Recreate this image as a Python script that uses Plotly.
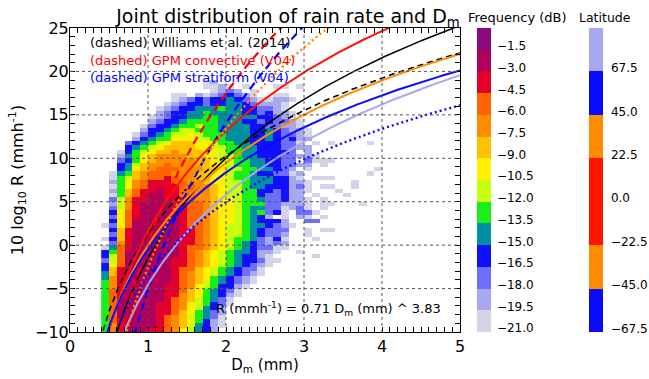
import numpy as np
import plotly.graph_objects as go

# ---------------- data ----------------
DM_START = 0.4          # left edge of first Dm bin (mm)
DM_STEP = 0.1
N_DM = 36
DB_START = -10.0        # lower edge of first 10log10(R) bin (dB)
DB_STEP = 0.5

LEVEL_CODES = "123456789abcde"
LEVEL_DB = [-21.0, -19.5, -18.0, -16.5, -15.0, -13.5, -12.0,
            -10.5, -9.0, -7.5, -6.0, -4.5, -3.0, -1.5]
FREQ_COLORS = ["#D4D4E8", "#A8A8F0", "#6E6EFF", "#1010FF", "#0090A0", "#18F018", "#C8FF10",
               "#FFF000", "#FFC000", "#FF8C00", "#FF6400", "#E4002A", "#B0005A", "#8C0A80"]

# frequency level of every cell, top row (18.5..19 dB) first: (first Dm-bin index, level codes)
HEAT_ROWS = [
    (13, "12"),
    (13, "1121.1...11.1"),
    (14, "1232.1"),
    (9, "11.21234321..11"),
    (9, "1234344543211221"),
    (8, "1234434455432221"),
    (7, "12344555655443321"),
    (7, "234455655554434221"),
    (6, "1234455665555544321"),
    (6, "23445666655544343321"),
    (5, "134456676655554433221"),
    (5, "2445677666555544543221"),
    (4, "13456778766655544543321"),
    (4, "24566888776655544543422"),
    (3, "34567899988766554444331.1.1....1"),
    (3, "456789999887766554443322"),
    (2, "1467899a999887665544443.2"),
    (2, "25689aaaa99887765544433221"),
    (2, "34689aaaaa9987766554433.3111"),
    (2, "4579aabaaa998876655443322.1"),
    (2, "4589abbbaaa998776655432.1........1"),
    (1, "1569abbbaaa99887665443312........1"),
    (1, "1679abbcbaa99887665554421.111"),
    (1, "268abcccbbaa98877655544221.....1"),
    (1, "168abccccbbaa9877655444231.11..1"),
    (1, "269bccdccbbaa9877664434221...1"),
    (1, "169bcddccbbaa987766433422.1...1"),
    (1, "37accdddccbaa9887665334221.1"),
    (1, "27acddddccbba9887666332221.11...1"),
    (1, "37acddddccbba9887655331231.1"),
    (1, "48bcdddddcbba9887656341.331"),
    (1, "38bcdddddcbba98876542.1.21.1"),
    (1, "48bddddddcbba9887654442..33"),
    (0, "138bddddddcbba98776554321"),
    (1, "49cddddddccba9877654333..1.11"),
    (1, "39cddddddccba9877654332..1"),
    (0, "149cddddddccba9876653241...1"),
    (1, "3acddddddccba9876543232"),
    (0, "15bcddddddcbba9876543311"),
    (0, "46bdddddddcba9876554221..1"),
    (0, "47bdddddddcba987654421.....1"),
    (0, "37bddddddccba9876544311"),
    (0, "48bddddddccba987654321"),
    (0, "49cddddddcbb987654331"),
    (0, "59cddddddcba987654321"),
    (0, "5acddddddcba98654321"),
    (0, "6acddddddcba97654321"),
    (0, "6acdddddccba8764421"),
    (0, "6bcdddddccb9865431"),
    (0, "6bcdddddcca9865421"),
    (0, "6bddddddcba976531"),
    (0, "6bdddddccba876431"),
    (0, "6bdddddccba87542"),
    (0, "6bdddddccb986532"),
    (0, "6bdddddcba976531"),
    (0, "6bcddddcba986421"),
    (0, "6acddddcba975421"),
    (0, "6acdddccba87542"),
]

# R = a * Dm^b relations
REL_NAME = ["Fit", "Williams et al. (2014)", "GPM convective (V04)", "GPM stratiform (V04)",
            "Lat 22.5S-22.5N", "Lat 22.5N-45N", "Lat 45N-67.5N", "Lat >67.5N",
            "Lat 22.5S-45S", "Lat 45S-67.5S"]
REL_A = [0.71, 1.35, 1.05, 0.31, 1.45, 1.00, 0.89, 0.35, 0.56, 0.45]
REL_B = [3.83, 2.98, 5.75, 6.36, 3.83, 3.15, 2.95, 3.45, 5.30, 2.80]
REL_COLOR = ["#000000", "#000000", "#FF0000", "#0000FF", "#FF1400", "#FF8C00",
             "#0A0AFF", "#A8A8F0", "#FF8C00", "#0A0AFF"]
REL_DASH = ["solid", "6px,4px", "8px,5px", "8px,5px", "solid", "solid",
            "solid", "solid", "2px,3px", "2px,3px"]
REL_WIDTH = [1.5, 1.6, 2.2, 2.2, 2, 2, 2, 2, 2.4, 2.4]

LAT_TICKS = [-67.5, -45.0, -22.5, 0.0, 22.5, 45.0, 67.5]
LAT_BOX_COLORS = ["#0A0AFF", "#FF8C00", "#FF1400", "#FF1400", "#FF8C00", "#0A0AFF", "#A8A8F0"]

X_GRID = [1, 2, 3, 4]
Y_GRID = [-5, 0, 5, 10, 15, 20]

LEGEND_TEXT = ["(dashed) Williams et al. (2014)", "(dashed) GPM convective (V04)",
               "(dashed) GPM stratiform (V04)"]
LEGEND_COLOR = ["#000000", "#FF0000", "#0000FF"]

FIT_TEXT = "R (mmh<sup>-1</sup>) = 0.71 D<sub>m</sub> (mm) ^ 3.83"

# ---------------- build ----------------
FONT = "DejaVu Sans"
W, H = 649, 379
ML, MR, MT, MB = 70, 189, 28, 47

z = []
for start, codes in reversed(HEAT_ROWS):
    row = [None] * N_DM
    for i, ch in enumerate(codes):
        if ch != "." and start + i < N_DM:
            row[start + i] = LEVEL_DB[LEVEL_CODES.index(ch)]
    z.append(row)
dm_centers = [DM_START + DM_STEP * (i + 0.5) for i in range(N_DM)]
db_centers = [DB_START + DB_STEP * (j + 0.5) for j in range(len(HEAT_ROWS))]

nlev = len(FREQ_COLORS)
zmin = LEVEL_DB[0] - 0.26
zmax = zmin + 1.5 * nlev
freq_cs = []
for k, c in enumerate(FREQ_COLORS):
    freq_cs += [[k / nlev, c], [(k + 1) / nlev, c]]

nlat = len(LAT_BOX_COLORS)
lat_min = LAT_TICKS[0] - 1.8
lat_max = lat_min + 22.5 * nlat
lat_cs = []
for k, c in enumerate(LAT_BOX_COLORS):
    lat_cs += [[k / nlat, c], [(k + 1) / nlat, c]]


def fmt(v):
    return f"{v:.1f}".replace("-", "\u2212")


fig = go.Figure()
fig.add_trace(go.Heatmap(x=dm_centers, y=db_centers, z=z, coloraxis="coloraxis",
                         hoverinfo="skip", showscale=True))

dm_curve = np.linspace(0.3, 5.0, 400)
for name, a, b, col, dash, w in zip(REL_NAME, REL_A, REL_B, REL_COLOR, REL_DASH, REL_WIDTH):
    fig.add_trace(go.Scatter(x=dm_curve, y=10 * np.log10(a * dm_curve ** b), mode="lines",
                             name=name, line=dict(color=col, dash=dash, width=w),
                             showlegend=False, hoverinfo="skip"))

fig.add_trace(go.Scatter(x=[None] * len(LAT_TICKS), y=[None] * len(LAT_TICKS), mode="markers",
                         marker=dict(color=LAT_TICKS, coloraxis="coloraxis2"),
                         showlegend=False, hoverinfo="skip"))

shapes = []
for v in X_GRID:
    shapes.append(dict(type="line", xref="x", yref="paper", x0=v, x1=v, y0=0, y1=1,
                       line=dict(color="#555555", width=1, dash="3px,3px"), layer="above"))
for v in Y_GRID:
    shapes.append(dict(type="line", xref="paper", yref="y", x0=0, x1=1, y0=v, y1=v,
                       line=dict(color="#555555", width=1, dash="3px,3px"), layer="above"))

ph = H - MT - MB
ann = []
for i, (t, c) in enumerate(zip(LEGEND_TEXT, LEGEND_COLOR)):
    ann.append(dict(text=t, xref="paper", yref="paper", x=(88 - ML) / (W - ML - MR),
                    y=(H - MB - [43, 61, 77.5][i]) / ph, xanchor="left", yanchor="middle",
                    showarrow=False, font=dict(family=FONT, size=13, color=c)))
ann.append(dict(text=FIT_TEXT, xref="x", yref="y", x=3.31, y=-7.4, showarrow=False,
                xanchor="center", yanchor="middle", font=dict(family=FONT, size=13, color="black")))
ann.append(dict(text="Frequency (dB)", xref="paper", yref="paper", x=(517 - ML) / (W - ML - MR),
                y=(H - MB - 17) / ph, xanchor="center", yanchor="middle", showarrow=False,
                font=dict(family=FONT, size=13, color="black")))
ann.append(dict(text="Latitude", xref="paper", yref="paper", x=(605 - ML) / (W - ML - MR),
                y=(H - MB - 17) / ph, xanchor="center", yanchor="middle", showarrow=False,
                font=dict(family=FONT, size=12.5, color="black")))

axis_common = dict(showline=True, linecolor="black", linewidth=1, mirror="allticks",
                   ticks="inside", ticklen=5, tickwidth=1, tickcolor="black",
                   showgrid=False, zeroline=False,
                   tickfont=dict(family=FONT, size=16, color="black"))

fig.update_layout(
    width=W, height=H,
    margin=dict(l=ML, r=MR, t=MT, b=MB, autoexpand=False),
    paper_bgcolor="white", plot_bgcolor="white",
    font=dict(family=FONT, color="black"),
    title=dict(text="Joint distribution of rain rate and D<sub>m</sub>", xref="container",
               x=288 / W, xanchor="center", yref="container", y=1 - 16 / H, yanchor="middle",
               font=dict(family=FONT, size=19, color="black")),
    xaxis=dict(range=[0, 5], tick0=0, dtick=1,
               minor=dict(dtick=0.1, ticks="inside", ticklen=5, tickcolor="black", showgrid=False),
               title=dict(text="D<sub>m</sub> (mm)", font=dict(family=FONT, size=15), standoff=4),
               **axis_common),
    yaxis=dict(range=[-10, 25], tick0=0, dtick=5, ticklabelstandoff=-3,
               minor=dict(dtick=1, ticks="inside", ticklen=5, tickcolor="black", showgrid=False),
               title=dict(text="10 log<sub>10</sub> R (mmh<sup>-1</sup>)",
                          font=dict(family=FONT, size=16), standoff=7),
               **axis_common),
    coloraxis=dict(cmin=zmin, cmax=zmax, colorscale=freq_cs,
                   colorbar=dict(xref="container", x=477 / W, xanchor="left", xpad=0,
                                 yref="paper", y=0.5, yanchor="middle", len=1, lenmode="fraction",
                                 ypad=0, thickness=14, outlinewidth=0,
                                 tickvals=LEVEL_DB, ticktext=[fmt(v) for v in LEVEL_DB],
                                 ticks="outside", ticklen=4, tickcolor="rgba(0,0,0,0)",
                                 tickfont=dict(family=FONT, size=12, color="black"))),
    coloraxis2=dict(cmin=lat_min, cmax=lat_max, colorscale=lat_cs,
                    colorbar=dict(xref="container", x=589 / W, xanchor="left", xpad=0,
                                  yref="paper", y=0.5, yanchor="middle", len=1, lenmode="fraction",
                                  ypad=0, thickness=14, outlinewidth=0,
                                  tickvals=LAT_TICKS, ticktext=[fmt(v) for v in LAT_TICKS],
                                  ticks="outside", ticklen=6, tickcolor="rgba(0,0,0,0)",
                                  tickfont=dict(family=FONT, size=12, color="black"))),
    shapes=shapes,
    annotations=ann,
)

fig.write_html("out.html")
